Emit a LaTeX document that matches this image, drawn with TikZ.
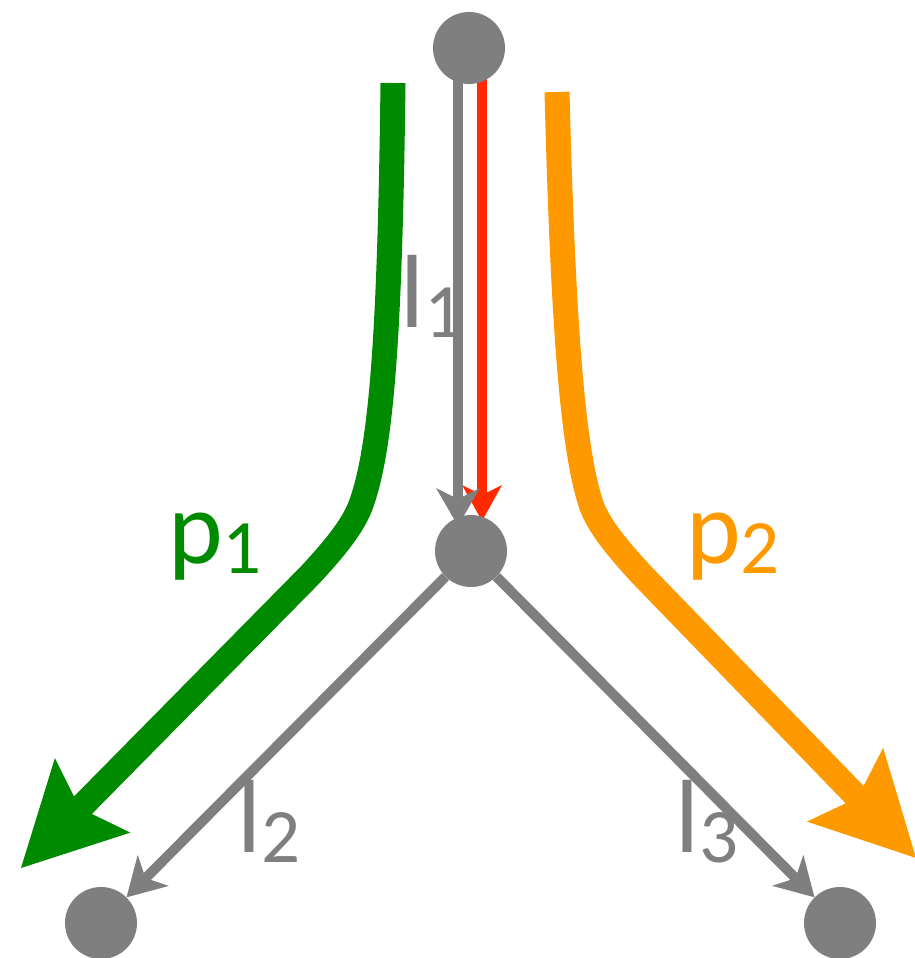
\documentclass[tikz,border=0pt]{standalone}
\usepackage{fontspec}
\setmainfont{Carlito}
\usetikzlibrary{arrows.meta}
\definecolor{dotgray}{HTML}{7F7F7F}
\definecolor{pgreen}{HTML}{008A00}
\definecolor{porange}{HTML}{FF9900}
\definecolor{pred}{HTML}{FF2A00}
\pgfdeclarelayer{bg}
\pgfsetlayers{bg,main}
\newcommand{\lblsub}[1]{\raisebox{-10pt}{\fontsize{77}{77}\selectfont #1}}
\begin{document}
\begin{tikzpicture}[x=1pt,y=-1pt,
  dot/.style={circle,fill=dotgray,draw=none,minimum size=72pt,inner sep=0pt},
  link/.style={draw=dotgray,line width=10pt,-{Stealth[length=38pt,width=44pt,inset=11pt,line width=0pt]}},
  redlink/.style={draw=pred,line width=10pt,-{Stealth[length=36pt,width=40pt,inset=10pt,line width=0pt]}},
  pathp/.style={line width=25pt,-{Stealth[length=102pt,width=106pt,inset=18pt,line width=0pt]}},
  lbl/.style={anchor=base west,inner sep=0pt,font=\fontsize{104}{104}\selectfont}
]
\useasboundingbox (0,0) rectangle (914,958);
\node[dot] (top) at (469,48) {};
\node[dot] (mid) at (471,551) {};
\node[dot] (bl) at (101,923) {};
\node[dot] (br) at (840,923) {};
\coordinate (g0) at (393,83);
\coordinate (g1) at (21,868);
\coordinate (o0) at (557,92);
\coordinate (o1) at (916,858);
\begin{pgfonlayer}{bg}
\draw[pathp,draw=pgreen] (g0) .. controls (390,330) and (382,450) .. (360,507) .. controls (352,527) and (335,548) .. (310,575) -- (g1);
\draw[pathp,draw=porange] (o0) .. controls (563,320) and (572,450) .. (592,507) .. controls (600,527) and (617,548) .. (642,575) -- (o1);
\draw[redlink] ([xshift=13pt]top.center) -- ([xshift=11pt,yshift=30pt]mid.center);
\draw[link] ([xshift=-11pt]top.center) -- ([xshift=-13pt,yshift=25pt]mid.center);
\draw[link] (mid) -- (bl);
\draw[link] (mid) -- (br);
\end{pgfonlayer}
\node[lbl,text=dotgray] (t1) at (400,327) {l\lblsub{1}};
\node[lbl,text=dotgray] (t2) at (237,852) {l\lblsub{2}};
\node[lbl,text=dotgray] (t3) at (675,852) {l\lblsub{3}};
\node[lbl,text=pgreen] (t4) at (168,563) {p\lblsub{1}};
\node[lbl,text=porange] (t5) at (686,563) {p\lblsub{2}};
\end{tikzpicture}
\end{document}
